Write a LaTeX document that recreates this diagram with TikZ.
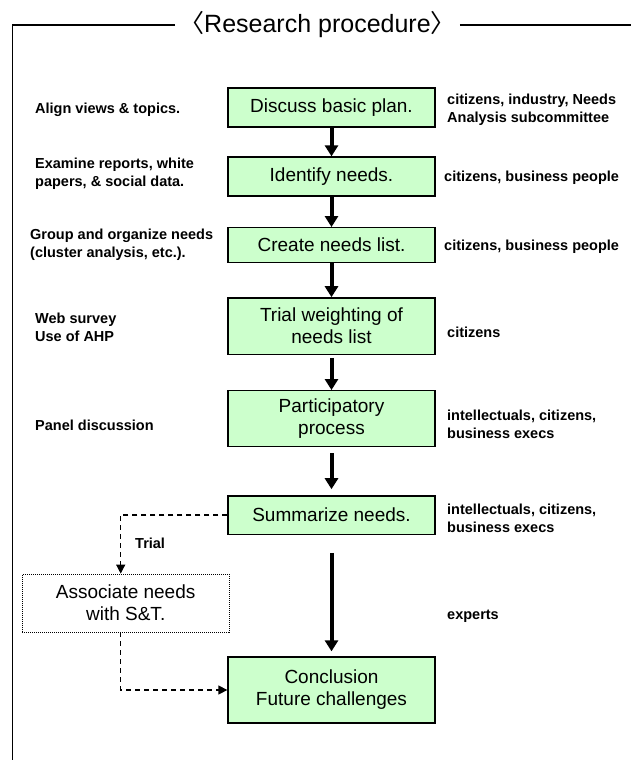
\documentclass[tikz,border=0pt]{standalone}
\usepackage{fontspec}
\setmainfont{Liberation Sans}
\newfontfamily\cjk{Noto Sans CJK JP}
\usetikzlibrary{arrows.meta}
\definecolor{stepgreen}{HTML}{CCFFCC}
\begin{document}
\begin{tikzpicture}[x=1pt,y=-1pt,
  boxfont/.style={font=\fontsize{19}{22}\selectfont},
  stepbox/.style={draw=black, line width=1.3pt, fill=stepgreen, minimum width=207pt,
    inner sep=2pt, align=center, boxfont},
  sidenote/.style={anchor=west, inner sep=0pt, align=left,
    font=\bfseries\fontsize{14.5}{18}\selectfont},
  flow/.style={line width=4pt, -{Triangle[width=13pt,length=11pt]}},
  trialpath/.style={line width=1.3pt, dash pattern=on 5pt off 4pt,
    -{Triangle[width=9pt,length=9pt]}},
  frameline/.style={line width=1.3pt}]
\useasboundingbox (0,0) rectangle (630,760);

% heading and open frame
\node[inner sep=4pt, font=\fontsize{25}{30}\selectfont] (title) at (317.5,25)
  {{\cjk 〈}Research procedure{\cjk 〉}};
\coordinate (fl) at (12.7,25);
\coordinate (fb) at (12.7,770);
\coordinate (fr) at (640,25);
\draw[frameline] (title.west) -- (fl) -- (fb);
\draw[frameline] (title.east) -- (fr);

% main steps
\node[stepbox, minimum height=39pt] (b1) at (331.5,107.5) {Discuss basic plan.};
\node[stepbox, minimum height=39pt] (b2) at (331.5,176.5) {Identify needs.};
\node[stepbox, minimum height=35pt] (b3) at (331.5,245.2) {Create needs list.};
\node[stepbox, minimum height=56.3pt] (b4) at (331.5,326) {Trial weighting of\\needs list};
\node[stepbox, minimum height=56pt] (b5) at (331.5,418.7) {Participatory\\process};
\node[stepbox, minimum height=38.3pt] (b6) at (331.5,515) {Summarize needs.};
\node[stepbox, minimum height=66pt] (b7) at (331.5,690) {Conclusion\\Future challenges};

% side branch
\node[draw, line width=0.8pt, dash pattern=on 1pt off 1pt, minimum width=206.7pt,
  minimum height=58pt, align=center, boxfont] (assoc) at (125.7,603)
  {Associate needs\\with S\&T.};

% methods (left)
\node[sidenote] (l1) at (35,110) {Align views \& topics.};
\node[sidenote] (l2) at (35,174) {Examine reports, white\\papers, \& social data.};
\node[sidenote] (l3) at (30,245) {Group and organize needs\\(cluster analysis, etc.).};
\node[sidenote] (l4) at (35,327) {Web survey\\Use of AHP};
\node[sidenote] (l5) at (35,425.7) {Panel discussion};

% participants (right)
\node[sidenote] (r1) at (447,110) {citizens, industry, Needs\\Analysis subcommittee};
\node[sidenote] (r2) at (444,178) {citizens, business people};
\node[sidenote] (r3) at (444,247) {citizens, business people};
\node[sidenote] (r4) at (447,332) {citizens};
\node[sidenote] (r5) at (447,424) {intellectuals, citizens,\\business execs};
\node[sidenote] (r6) at (447,518) {intellectuals, citizens,\\business execs};
\node[sidenote] (r7) at (447,616) {experts};

% flow arrows
\draw[flow] (b1.south) -- (b2.north);
\draw[flow] (b2.south) -- (b3.north);
\draw[flow] (b3.south) -- (b4.north);
\draw[flow, shorten <=3pt] (b4.south) -- (b5.north);
\draw[flow, shorten <=6pt, shorten >=6pt] (b5.south) -- (b6.north);
\draw[flow, shorten <=18pt, shorten >=5pt] (b6.south) -- (b7.north);

% trial branch
\draw[trialpath] (b6.west) -| ([xshift=-5pt]assoc.north);
\node[sidenote] (trial) at (135,543) {Trial};
\draw[trialpath] ([xshift=-5pt]assoc.south) |- (b7.west);
\end{tikzpicture}
\end{document}
